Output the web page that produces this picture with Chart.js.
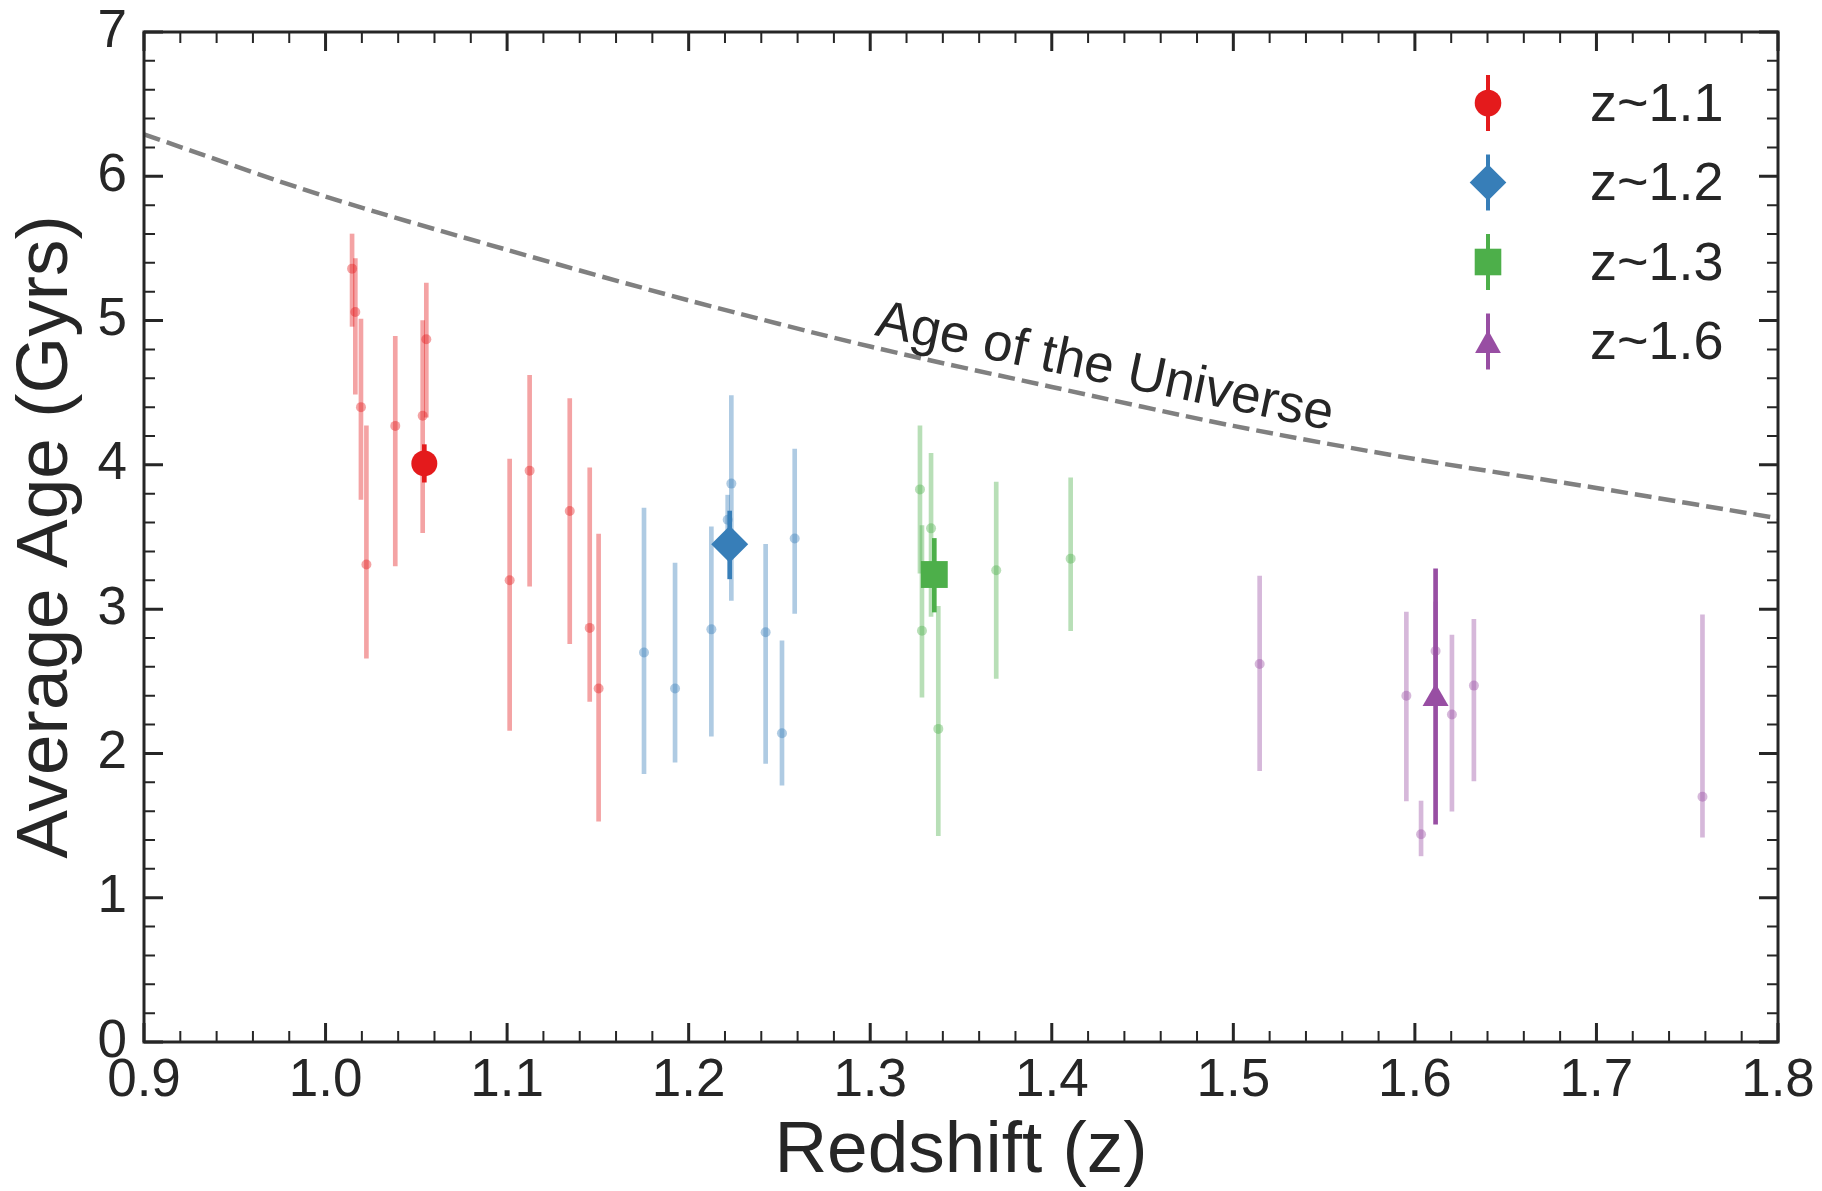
<!DOCTYPE html>
<html>
<head>
<meta charset="utf-8">
<title>Average Age vs Redshift</title>
<script src="https://cdn.jsdelivr.net/npm/chart.js@4.4.1/dist/chart.umd.min.js"></script>
<style>
  html, body { margin: 0; padding: 0; background: #fff; }
</style>
</head>
<body>
<canvas id="grafico" width="1822" height="1191"></canvas>
<script>
// z~1.1 (red)
const redZ   = [1.0146, 1.0164, 1.0195, 1.0225, 1.0384, 1.0535, 1.0555, 1.1014, 1.1124, 1.1345, 1.1455, 1.1504];
const redAge = [5.36, 5.06, 4.40, 3.31, 4.27, 4.34, 4.87, 3.20, 3.96, 3.68, 2.87, 2.45];
const redLo  = [4.96, 4.49, 3.76, 2.66, 3.30, 3.53, 4.33, 2.16, 3.16, 2.76, 2.36, 1.53];
const redHi  = [5.60, 5.43, 5.01, 4.27, 4.89, 5.00, 5.26, 4.04, 4.62, 4.46, 3.98, 3.52];

// z~1.2 (blue)
const blueZ   = [1.1754, 1.1925, 1.2125, 1.2215, 1.2235, 1.2424, 1.2514, 1.2584];
const blueAge = [2.70, 2.45, 2.86, 3.62, 3.87, 2.84, 2.14, 3.49];
const blueLo  = [1.86, 1.94, 2.12, 3.40, 3.06, 1.93, 1.78, 2.97];
const blueHi  = [3.70, 3.32, 3.57, 3.79, 4.48, 3.45, 2.78, 4.11];

// z~1.3 (green)
const greenZ   = [1.3274, 1.3285, 1.3335, 1.3375, 1.3694, 1.4104];
const greenAge = [3.83, 2.85, 3.56, 2.17, 3.27, 3.35];
const greenLo  = [3.25, 2.39, 2.95, 1.43, 2.52, 2.85];
const greenHi  = [4.27, 3.58, 4.08, 3.02, 3.88, 3.91];

// z~1.6 (purple)
const purpleZ   = [1.5145, 1.5953, 1.6034, 1.6114, 1.6204, 1.6325, 1.7584];
const purpleAge = [2.62, 2.40, 1.44, 2.71, 2.27, 2.47, 1.70];
const purpleLo  = [1.88, 1.67, 1.29, 2.40, 1.60, 1.81, 1.42];
const purpleHi  = [3.23, 2.98, 1.67, 3.05, 2.82, 2.93, 2.96];

// group averages
const groupLabels = ['z~1.1', 'z~1.2', 'z~1.3', 'z~1.6'];
const meanZ   = [1.0544, 1.2226, 1.3353, 1.6114];
const meanAge = [4.01, 3.45, 3.24, 2.38];
const meanLo  = [3.88, 3.21, 2.98, 1.51];
const meanHi  = [4.14, 3.68, 3.49, 3.28];

// age of the universe
const universeZ   = [0.9, 1.0, 1.1, 1.2, 1.3, 1.4, 1.5, 1.6, 1.7, 1.8];
const universeAge = [6.29, 5.86, 5.49, 5.14, 4.82, 4.54, 4.27, 4.04, 3.84, 3.63];

const xTicks = [0.9, 1.0, 1.1, 1.2, 1.3, 1.4, 1.5, 1.6, 1.7, 1.8];
const yTicks = [0, 1, 2, 3, 4, 5, 6, 7];

const samples = [
  [redZ, redAge, redLo, redHi],
  [blueZ, blueAge, blueLo, blueHi],
  [greenZ, greenAge, greenLo, greenHi],
  [purpleZ, purpleAge, purpleLo, purpleHi]
];

const rgb = ['228, 26, 28', '55, 126, 184', '77, 175, 74', '152, 78, 163'];
const markers = [
  { style: 'circle', r: 13 },
  { style: 'rectRot', r: 18.5 },
  { style: 'rect', r: 19 },
  { style: 'triangle', r: 15 }
];

const FONT = '"Liberation Sans", Arial, Helvetica, sans-serif';
const INK = '#262626';

const datasets = [];
samples.forEach(([zs, ages, lo, hi], g) => {
  datasets.push({
    type: 'bar',
    data: zs.map((z, i) => ({ x: z, y: [lo[i], hi[i]] })),
    backgroundColor: `rgba(${rgb[g]}, 0.4)`,
    borderWidth: 0,
    barThickness: 4,
    grouped: false,
    order: 10
  });
  datasets.push({
    type: 'scatter',
    data: zs.map((z, i) => ({ x: z, y: ages[i] })),
    backgroundColor: `rgba(${rgb[g]}, 0.4)`,
    borderWidth: 0,
    pointRadius: 5,
    order: 9
  });
  datasets.push({
    type: 'bar',
    data: [{ x: meanZ[g], y: [meanLo[g], meanHi[g]] }],
    backgroundColor: `rgb(${rgb[g]})`,
    borderWidth: 0,
    barThickness: 4,
    grouped: false,
    order: 2
  });
  datasets.push({
    type: 'scatter',
    label: groupLabels[g],
    data: [{ x: meanZ[g], y: meanAge[g] }],
    backgroundColor: `rgb(${rgb[g]})`,
    borderWidth: 0,
    pointStyle: markers[g].style,
    pointRadius: markers[g].r,
    order: 1
  });
});

datasets.push({
  type: 'line',
  data: universeZ.map((z, i) => ({ x: z, y: universeAge[i] })),
  borderColor: '#808080',
  borderWidth: 4.5,
  borderDash: [17, 7],
  pointRadius: 0,
  fill: false,
  tension: 0.3,
  order: 20
});

// inward ticks on all sides plus the box
const frame = {
  id: 'frame',
  afterDatasetsDraw(chart) {
    const { ctx, chartArea: a, scales: { x, y } } = chart;
    ctx.save();
    ctx.strokeStyle = INK;
    for (let i = 0; i <= 45; i++) {
      const px = x.getPixelForValue(0.9 + i * 0.02);
      const major = i % 5 === 0;
      const len = major ? 19 : 11;
      ctx.lineWidth = major ? 3 : 2;
      ctx.beginPath();
      ctx.moveTo(px, a.bottom); ctx.lineTo(px, a.bottom - len);
      ctx.moveTo(px, a.top); ctx.lineTo(px, a.top + len);
      ctx.stroke();
    }
    for (let i = 0; i <= 35; i++) {
      const py = y.getPixelForValue(i * 0.2);
      const major = i % 5 === 0;
      const len = major ? 19 : 11;
      ctx.lineWidth = major ? 3 : 2;
      ctx.beginPath();
      ctx.moveTo(a.left, py); ctx.lineTo(a.left + len, py);
      ctx.moveTo(a.right, py); ctx.lineTo(a.right - len, py);
      ctx.stroke();
    }
    ctx.lineWidth = 3;
    ctx.strokeRect(a.left, a.top, a.right - a.left, a.bottom - a.top);
    ctx.restore();
  }
};

// label on the dashed line
const universeLabel = {
  id: 'universeLabel',
  afterDraw(chart) {
    const { ctx, scales: { x, y } } = chart;
    ctx.save();
    ctx.translate(x.getPixelForValue(1.302), y.getPixelForValue(4.90));
    ctx.rotate(11.8 * Math.PI / 180);
    ctx.font = `53px ${FONT}`;
    ctx.fillStyle = INK;
    ctx.textBaseline = 'alphabetic';
    ctx.fillText('Age of the Universe', 0, 0);
    ctx.restore();
  }
};

// matplotlib style legend with error bar markers
const legendBox = {
  id: 'legendBox',
  afterDraw(chart) {
    const { ctx } = chart;
    const mx = 1488, tx = 1590;
    ctx.save();
    groupLabels.forEach((label, g) => {
      const cy = 103 + g * 79.5;
      const col = `rgb(${rgb[g]})`;
      ctx.strokeStyle = col;
      ctx.fillStyle = col;
      ctx.lineWidth = 4;
      ctx.beginPath();
      ctx.moveTo(mx, cy - 28); ctx.lineTo(mx, cy + 28);
      ctx.stroke();
      ctx.beginPath();
      if (g === 0) {
        ctx.arc(mx, cy, 13.3, 0, Math.PI * 2);
      } else if (g === 1) {
        ctx.moveTo(mx, cy - 18.3); ctx.lineTo(mx + 18.3, cy);
        ctx.lineTo(mx, cy + 18.3); ctx.lineTo(mx - 18.3, cy);
      } else if (g === 2) {
        ctx.rect(mx - 13.3, cy - 13.3, 26.6, 26.6);
      } else {
        ctx.moveTo(mx, cy - 11.5); ctx.lineTo(mx + 12.9, cy + 11.5);
        ctx.lineTo(mx - 12.9, cy + 11.5);
      }
      ctx.closePath();
      ctx.fill();
      ctx.fillStyle = INK;
      ctx.font = `54px ${FONT}`;
      ctx.textBaseline = 'middle';
      ctx.fillText(label, tx, cy + 3);
    });
    ctx.restore();
  }
};

Chart.defaults.font.family = FONT;
Chart.defaults.color = INK;

new Chart(document.getElementById('grafico'), {
  type: 'scatter',
  data: { datasets },
  options: {
    responsive: false,
    animation: false,
    devicePixelRatio: 1,
    events: [],
    layout: { padding: { top: 32, right: 44, left: 0, bottom: 0 } },
    plugins: {
      legend: { display: false },
      tooltip: { enabled: false }
    },
    scales: {
      x: {
        type: 'linear',
        min: 0.9,
        max: 1.8,
        offset: false,
        afterBuildTicks: s => { s.ticks = xTicks.map(v => ({ value: v })); },
        afterFit: s => { s.height = 149; s.paddingLeft = 0; s.paddingRight = 0; },
        grid: { display: false, drawTicks: false },
        border: { display: false },
        ticks: {
          autoSkip: false,
          maxRotation: 0,
          padding: 8,
          color: INK,
          font: { size: 53 },
          callback: v => v.toFixed(1)
        },
        title: {
          display: true,
          text: 'Redshift (z)',
          color: INK,
          font: { size: 73, lineHeight: 1 },
          padding: { top: 0, bottom: 3 }
        }
      },
      y: {
        type: 'linear',
        min: 0,
        max: 7,
        afterBuildTicks: s => { s.ticks = yTicks.map(v => ({ value: v })); },
        afterFit: s => { s.width = 144; s.paddingTop = 0; s.paddingBottom = 0; },
        grid: { display: false, drawTicks: false },
        border: { display: false },
        ticks: {
          padding: 17,
          color: INK,
          font: { size: 53 }
        },
        title: {
          display: true,
          text: 'Average Age (Gyrs)',
          color: INK,
          font: { size: 73, lineHeight: 1 },
          padding: { top: 10, bottom: 0 }
        }
      }
    }
  },
  plugins: [frame, universeLabel, legendBox]
});
</script>
</body>
</html>
